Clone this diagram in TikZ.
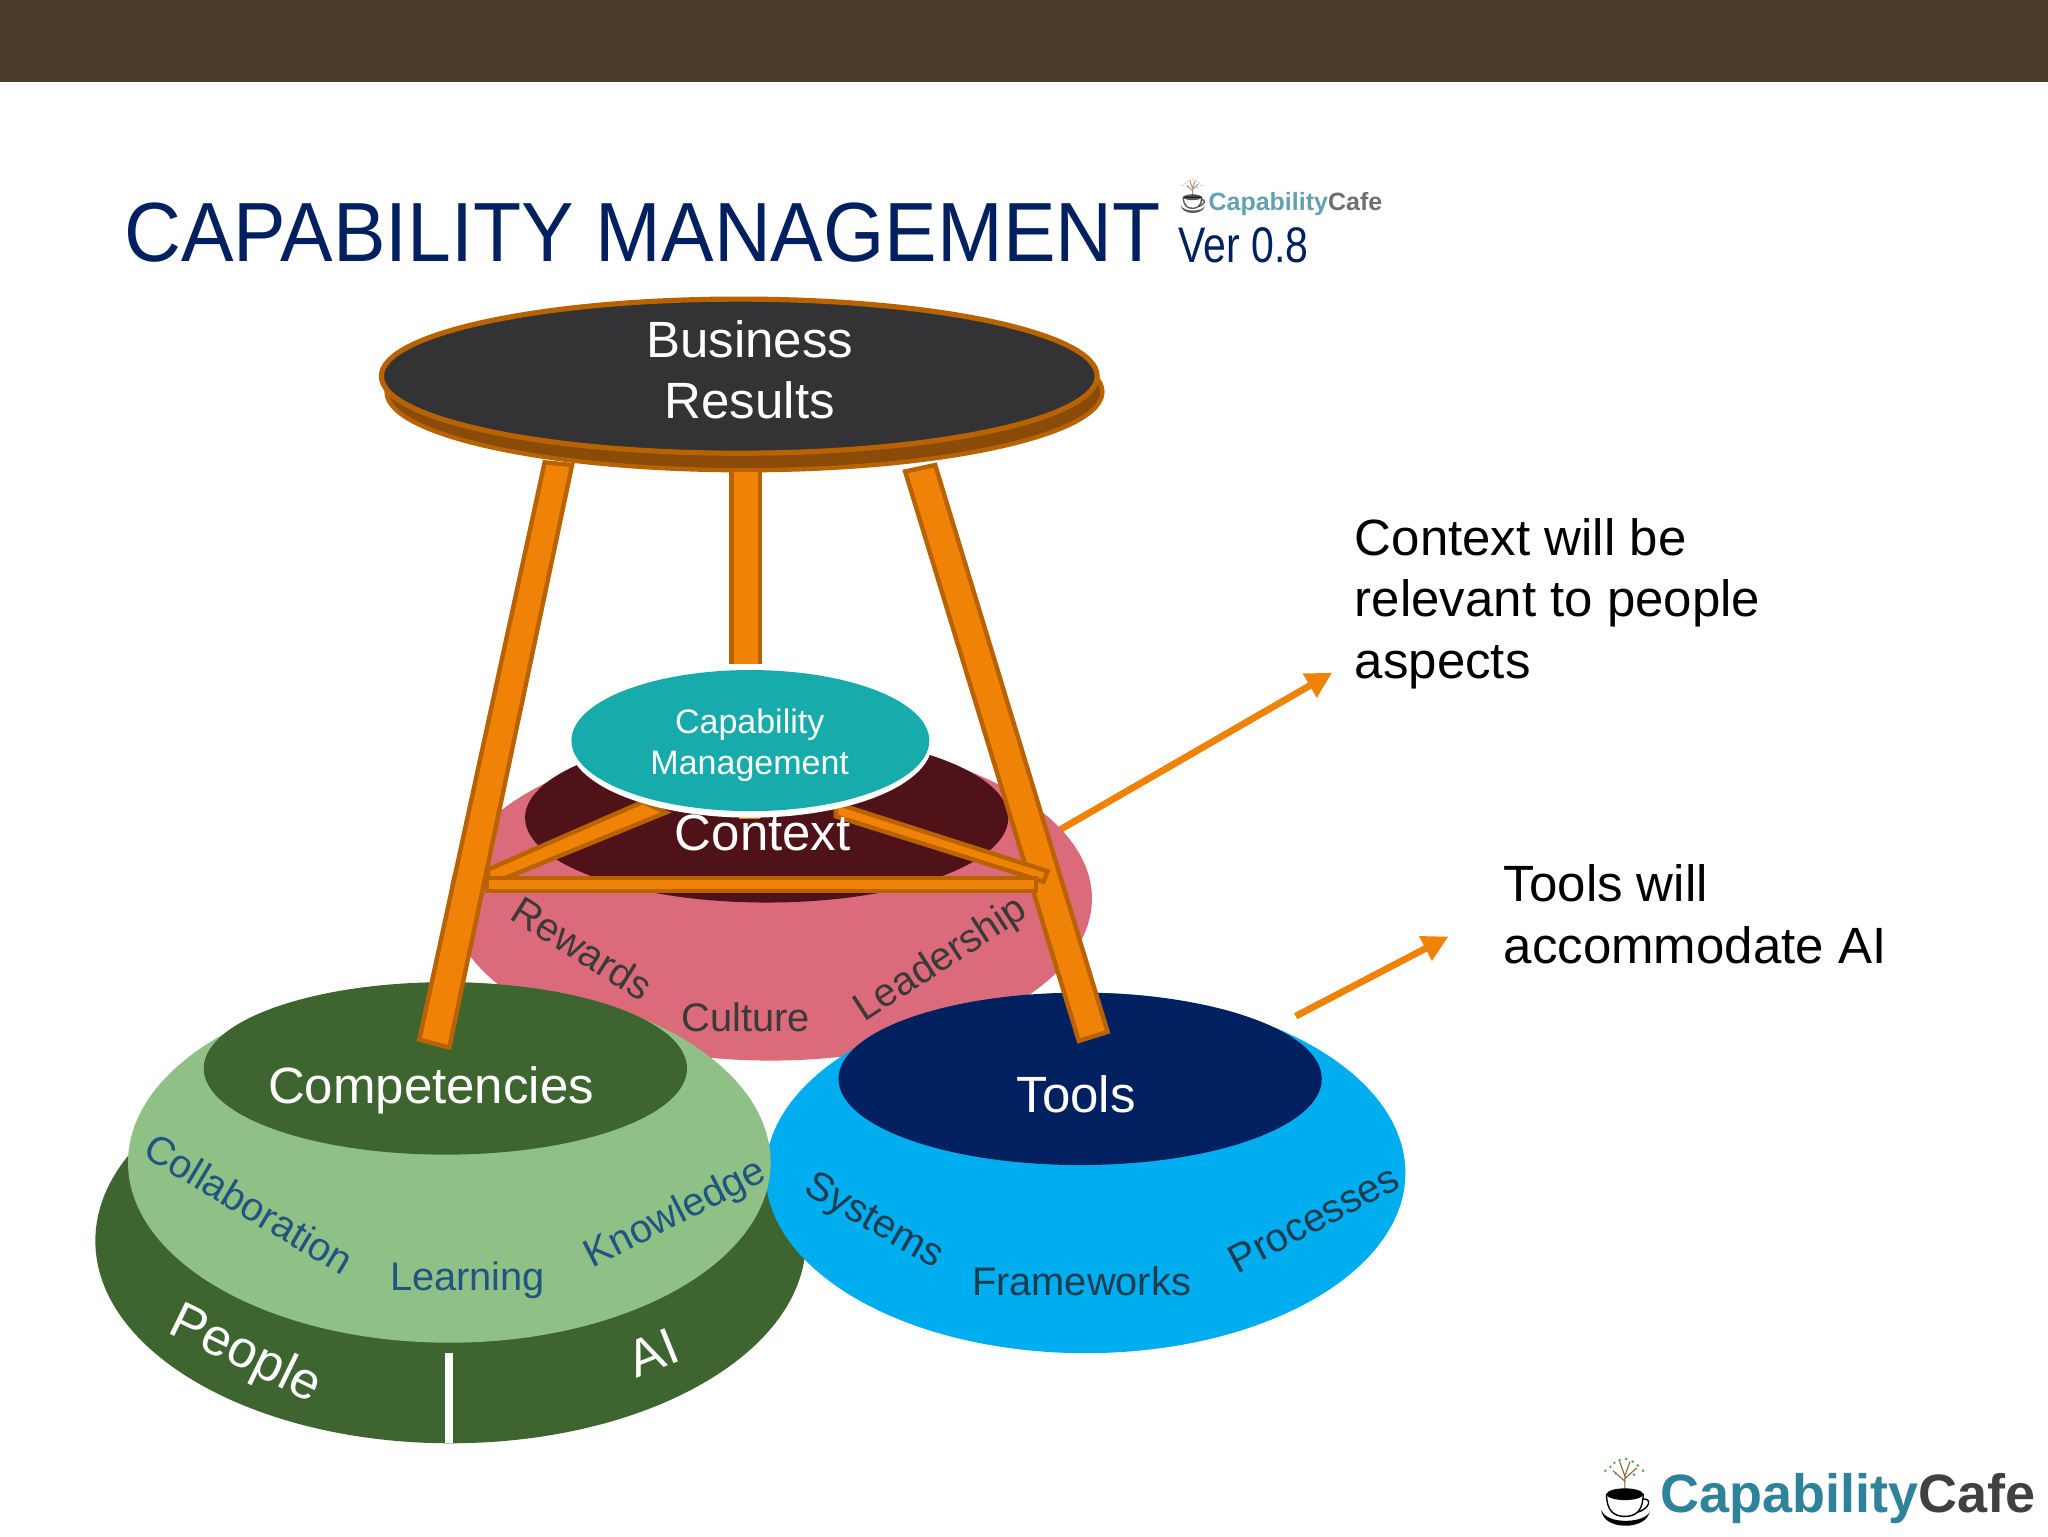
\documentclass[tikz,border=0pt]{standalone}
\usepackage{fontspec}
\setmainfont{Liberation Sans}
\usetikzlibrary{arrows.meta}
\definecolor{band}{HTML}{4A3D2A}
\definecolor{navy}{HTML}{002060}
\definecolor{rim}{HTML}{B86200}
\definecolor{rimdark}{HTML}{8A4B08}
\definecolor{tabletop}{HTML}{333336}
\definecolor{woodfill}{HTML}{F08208}
\definecolor{teal}{HTML}{17ABAB}
\definecolor{pinkc}{HTML}{DB6A7A}
\definecolor{maroon}{HTML}{4F1219}
\definecolor{greenl}{HTML}{8FC085}
\definecolor{greend}{HTML}{3E6530}
\definecolor{bluel}{HTML}{00AEEF}
\definecolor{greytext}{HTML}{3A3A3A}
\definecolor{bluetext}{HTML}{1F5580}
\definecolor{slatetext}{HTML}{1D3C50}
\definecolor{logoteal}{HTML}{2E8299}
\definecolor{logogrey}{HTML}{404040}
\newcommand\fbig{\fontsize{25.5}{30.7}\selectfont}
\newcommand\flab{\fontsize{19.9}{24}\selectfont}
\newcommand\fpeople{\fontsize{26}{30}\selectfont}
\tikzset{
  x=0.65306pt,y=-0.65306pt,
  beam/.style={fill=woodfill,draw=rim,line width=2.2pt,line join=miter},
  flowarrow/.style={draw=woodfill,line width=3.4pt,-{Triangle[length=13pt,width=13pt]}},
  whitetext/.style={text=white,inner sep=0pt,font=\fbig,align=center},
  bodytext/.style={text=black,inner sep=0pt,font=\fbig,align=left,anchor=west},
  flatlabel/.style={inner sep=0pt,font=\flab,anchor=base},
  pics/cuplogo/.style={code={
    \draw[brown!70!black,line width=.5pt] (0,-2) -- (0,-14) (0,-10) -- (-9,-18) (0,-12) -- (9,-20) (0,-14) -- (-4,-25) (0,-14) -- (4,-25);
    \foreach \dx/\dy in {-15/-18,-11/-21,-8/-24,-4/-26,1/-27,6/-25,10/-22,14/-18,-7/-16,7/-15}
      \fill[green!30!gray] (\dx,\dy) circle[radius=1.1];
    \draw[black,line width=.7pt] (13,4) .. controls (21,2) and (20,11) .. (9,14);
    \draw[black,fill=white,line width=.7pt] (-14,0) .. controls (-14,12) and (-9,17) .. (0,17) .. controls (9,17) and (14,12) .. (14,0) -- cycle;
    \fill[black] (0,0) ellipse[x radius=14,y radius=4.5];
    \fill[black] (-18,12) .. controls (-17,28) and (17,28) .. (19,13) .. controls (17,22) and (-14,24) .. (-18,12) -- cycle;
  }}
}
\begin{document}
\begin{tikzpicture}
\useasboundingbox (0,0) rectangle (1568,1176);
\fill[white] (0,0) rectangle (1568,1176);
\fill[band] (0,0) rectangle (1568,63);

% title
\node[anchor=base west,inner sep=0pt,text=navy,font=\fontsize{42}{48}\selectfont] (title) at (95,200) {\scalebox{.938}[1]{CAPABILITY MANAGEMENT}};
\node[anchor=base west,inner sep=0pt,text=navy,font=\fontsize{25}{30}\selectfont] (ver) at (902,201) {\scalebox{.82}[1]{Ver 0.8}};
\pic[opacity=.65] at (913,151) [scale=.5] {cuplogo};
\node[anchor=base west,inner sep=0pt,font=\fontsize{12.5}{15}\bfseries\selectfont,opacity=.75] (smalllogo) at (925,161) {\textcolor{logoteal}{Capability}\textcolor{logogrey}{Cafe}};
\pic at (1244,1144) {cuplogo};
\node[anchor=base west,inner sep=0pt,font=\fontsize{27}{32}\bfseries\selectfont] (biglogo) at (1271,1158) {\textcolor{logoteal}{Capability}\textcolor{logogrey}{Cafe}};

% arrows (tails run behind the context disc)
\coordinate (ctxtail) at (812,635);
\coordinate (ctxhead) at (1020,515);
\coordinate (tooltail) at (992,778);
\coordinate (toolhead) at (1109,717);
\draw[flowarrow] (ctxtail) -- (ctxhead);
\draw[flowarrow] (tooltail) -- (toolhead);

% context disc
\fill[pinkc] (590,688) ellipse[x radius=246,y radius=124];
\fill[maroon] (587,626) ellipse[x radius=185,y radius=65];

% people/AI disc, tools, competencies
\fill[greend] (345,950) ellipse[x radius=272,y radius=155];
\fill[white] (341,1036) rectangle (347,1105);
\fill[bluel] (831,898) ellipse[x radius=245,y radius=138];
\fill[navy] (827,826) ellipse[x radius=185,y radius=66];
\fill[greenl] (344,890) ellipse[x radius=246,y radius=138];
\fill[greend] (341,818) ellipse[x radius=185,y radius=66];

% table
\filldraw[fill=rimdark,draw=rim,line width=2.2pt] (570,300) ellipse[x radius=274,y radius=60];
\filldraw[fill=tabletop,draw=rim,line width=2.6pt] (566,288) ellipse[x radius=274,y radius=59];

% legs
\fill[woodfill] (560,361) rectangle (582,508);
\draw[rim,line width=2.2pt] (560,361) -- (560,508) (582,361) -- (582,508);
\draw[beam] (417,354) -- (438,356) -- (344,802) -- (321,796) -- cycle;
\draw[beam] (693,361) -- (716,356) -- (848,790) -- (826,797) -- cycle;

% braces
\draw[beam] (373,666) -- (492,614) -- (510,622) -- (385,673) -- (375,675) -- cycle;
\draw[beam] (640,615) -- (802,667) -- (799,675) -- (640,625) -- cycle;
\draw[beam] (373,672) -- (793,672) -- (793,682) -- (373,682) -- cycle;
\fill[woodfill] (566,620) rectangle (582,627);

% capability management
\fill[white] (574.5,569) ellipse[x radius=139,y radius=57];
\fill[teal] (574.5,567) ellipse[x radius=137,y radius=54];

% centre labels
\node[whitetext,font=\fontsize{17}{20.2}\selectfont] (capmgmt) at (574,570.5) {Capability\\Management};
\node[whitetext] (results) at (574,283) {Business\\Results};
\node[whitetext,anchor=base] (context) at (584,651) {Context};
\node[whitetext,anchor=base] (compet) at (330,845) {Competencies};
\node[whitetext,anchor=base] (tools) at (824,852) {Tools};

% context words
\node[flatlabel,text=greytext,rotate=-32] (rewards) at (440,735) {Rewards};
\node[flatlabel,text=greytext] (culture) at (571,789.5) {Culture};
\node[flatlabel,text=greytext,rotate=33] (leadership) at (725,742) {Leadership};
% competency words
\node[flatlabel,text=bluetext,rotate=-31] (collab) at (185,931) {Collaboration};
\node[flatlabel,text=bluetext] (learning) at (358,988) {Learning};
\node[flatlabel,text=bluetext,rotate=27] (knowledge) at (521,937) {Knowledge};
% tools words
\node[flatlabel,text=slatetext,rotate=-30] (systems) at (665,942) {Systems};
\node[flatlabel,text=slatetext] (frameworks) at (828,991.5) {Frameworks};
\node[flatlabel,text=slatetext,rotate=28] (processes) at (1010.5,942) {Processes};
% people / AI
\node[inner sep=0pt,anchor=base,text=white,font=\fpeople,rotate=-26] (people) at (183,1047) {People};
\node[inner sep=0pt,text=white,font=\fpeople,rotate=22] (ai) at (500,1036) {AI};

% notes
\node[bodytext] (note1) at (1037,462) {Context will be\\relevant to people\\aspects};
\node[bodytext] (note2) at (1151,700) {Tools will\\accommodate AI};
\end{tikzpicture}
\end{document}
